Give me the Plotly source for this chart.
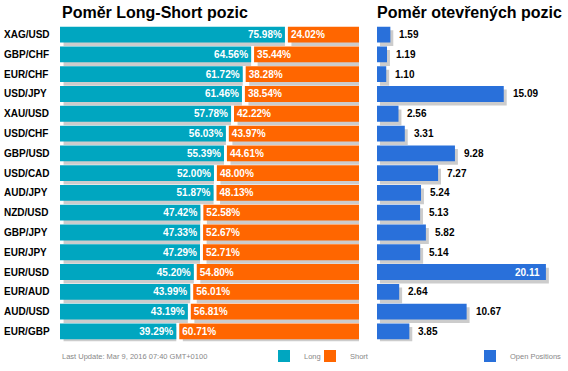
import plotly.graph_objects as go

pairs = ["XAG/USD", "GBP/CHF", "EUR/CHF", "USD/JPY", "XAU/USD", "USD/CHF", "GBP/USD", "USD/CAD",
         "AUD/JPY", "NZD/USD", "GBP/JPY", "EUR/JPY", "EUR/USD", "EUR/AUD", "AUD/USD", "EUR/GBP"]
long_pct = [75.98, 64.56, 61.72, 61.46, 57.78, 56.03, 55.39, 52.00, 51.87, 47.42, 47.33, 47.29, 45.20, 43.99, 43.19, 39.29]
short_pct = [24.02, 35.44, 38.28, 38.54, 42.22, 43.97, 44.61, 48.00, 48.13, 52.58, 52.67, 52.71, 54.80, 56.01, 56.81, 60.71]
open_pos = [1.59, 1.19, 1.10, 15.09, 2.56, 3.31, 9.28, 7.27, 5.24, 5.13, 5.82, 5.14, 20.11, 2.64, 10.67, 3.85]

title_left = "Poměr Long-Short pozic"
title_right = "Poměr otevřených pozic"
footer = "Last Update: Mar 9, 2016 07:40 GMT+0100"

W, H = 568, 371
TEAL = "#00A6C0"
ORANGE = "#FF6600"
BLUE = "#2970DA"
SHADOW = "#CCCCCC"
FONT = "Arial, 'Liberation Sans', sans-serif"

GAP = 1.0        # gap between long and short bars (x units)
SH_L = 1.2       # shadow shift, left chart (x units)
SH_R = 0.35      # shadow shift, right chart (x units)
BW = 0.8
SH_Y = 0.18

def px(x):
    return x / W

def py(y):
    return 1 - y / H

fig = go.Figure()

short_base = [l + GAP for l in long_pct]
bar_font = dict(color="white", size=10, family=FONT, weight="bold")

# left chart shadows
fig.add_trace(go.Bar(y=pairs, x=[l - SH_L for l in long_pct], base=SH_L, orientation="h",
                     width=BW, offset=-BW / 2 + SH_Y, marker=dict(color=SHADOW, line_width=0),
                     showlegend=False, hoverinfo="skip", xaxis="x", yaxis="y"))
fig.add_trace(go.Bar(y=pairs, x=short_pct, base=[b + SH_L for b in short_base], orientation="h",
                     width=BW, offset=-BW / 2 + SH_Y, marker=dict(color=SHADOW, line_width=0),
                     showlegend=False, hoverinfo="skip", xaxis="x", yaxis="y"))
# long / short bars
fig.add_trace(go.Bar(y=pairs, x=long_pct, base=0, orientation="h", name="Long",
                     width=BW, offset=-BW / 2, marker=dict(color=TEAL, line_width=0),
                     texttemplate="%{x:.2f}%", textposition="inside", insidetextanchor="end",
                     constraintext="none", textangle=0, insidetextfont=bar_font,
                     legend="legend", xaxis="x", yaxis="y"))
fig.add_trace(go.Bar(y=pairs, x=short_pct, base=short_base, orientation="h", name="Short",
                     width=BW, offset=-BW / 2, marker=dict(color=ORANGE, line_width=0),
                     texttemplate="%{x:.2f}%", textposition="inside", insidetextanchor="start",
                     constraintext="none", textangle=0, insidetextfont=bar_font,
                     legend="legend2", xaxis="x", yaxis="y"))

# right chart
fig.add_trace(go.Bar(y=pairs, x=open_pos, base=SH_R, orientation="h",
                     width=BW, offset=-BW / 2 + SH_Y, marker=dict(color=SHADOW, line_width=0),
                     showlegend=False, hoverinfo="skip", xaxis="x2", yaxis="y2"))
fig.add_trace(go.Bar(y=pairs, x=open_pos, base=0, orientation="h", name="Open Positions",
                     width=BW, offset=-BW / 2, marker=dict(color=BLUE, line_width=0),
                     legend="legend3", xaxis="x2", yaxis="y2"))

annotations = []
vmax = max(open_pos)
for p, v in zip(pairs, open_pos):
    if v == vmax:
        annotations.append(dict(x=v, y=p, xref="x2", yref="y2", text=f"{v:.2f}", showarrow=False,
                                xanchor="right", xshift=-4, font=dict(size=10, color="white", family=FONT, weight="bold")))
    else:
        annotations.append(dict(x=v, y=p, xref="x2", yref="y2", text=f"{v:.2f}", showarrow=False,
                                xanchor="left", xshift=7, font=dict(size=10, color="black", family=FONT, weight="bold")))
for p in pairs:
    annotations.append(dict(x=px(2), y=p, xref="paper", yref="y", text=p, showarrow=False,
                            xanchor="left", font=dict(size=10, color="black", family=FONT, weight="bold")))

annotations.append(dict(x=px(60), y=py(13), xref="paper", yref="paper", text=title_left, showarrow=False,
                        xanchor="left", yanchor="middle", font=dict(size=16, color="black", family=FONT, weight="bold")))
annotations.append(dict(x=px(375), y=py(13), xref="paper", yref="paper", text=title_right, showarrow=False,
                        xanchor="left", yanchor="middle", font=dict(size=16, color="black", family=FONT, weight="bold")))
annotations.append(dict(x=px(60), y=py(360), xref="paper", yref="paper", text=footer, showarrow=False,
                        xanchor="left", yanchor="middle", font=dict(size=7.5, color="#888888", family=FONT)))

leg_common = dict(orientation="h", yanchor="middle", xanchor="left", bgcolor="rgba(0,0,0,0)",
                  font=dict(size=7.5, color="#888888", family=FONT), borderwidth=0)

ydom = [py(345), py(25)]
fig.update_layout(
    width=W, height=H,
    margin=dict(l=0, r=0, t=0, b=0),
    paper_bgcolor="white", plot_bgcolor="white",
    barmode="overlay",
    showlegend=True,
    xaxis=dict(domain=[px(60), px(359)], range=[0, 100 + GAP], visible=False, fixedrange=True),
    yaxis=dict(domain=ydom, range=[15.5, -0.5], type="category", categoryorder="array",
               categoryarray=pairs, visible=False),
    xaxis2=dict(domain=[px(377), 1.0], range=[0, (W - 377) / 8.4], visible=False, anchor="y2"),
    yaxis2=dict(domain=ydom, range=[15.5, -0.5], type="category", categoryorder="array",
                categoryarray=pairs, visible=False, anchor="x2"),
    legend=dict(x=px(264), y=py(360), **leg_common),
    legend2=dict(x=px(310), y=py(360), **leg_common),
    legend3=dict(x=px(470), y=py(360), **leg_common),
    annotations=annotations,
)

fig.write_html("out.html", config={"displayModeBar": False},
               post_script="document.body.style.margin='0px';")
